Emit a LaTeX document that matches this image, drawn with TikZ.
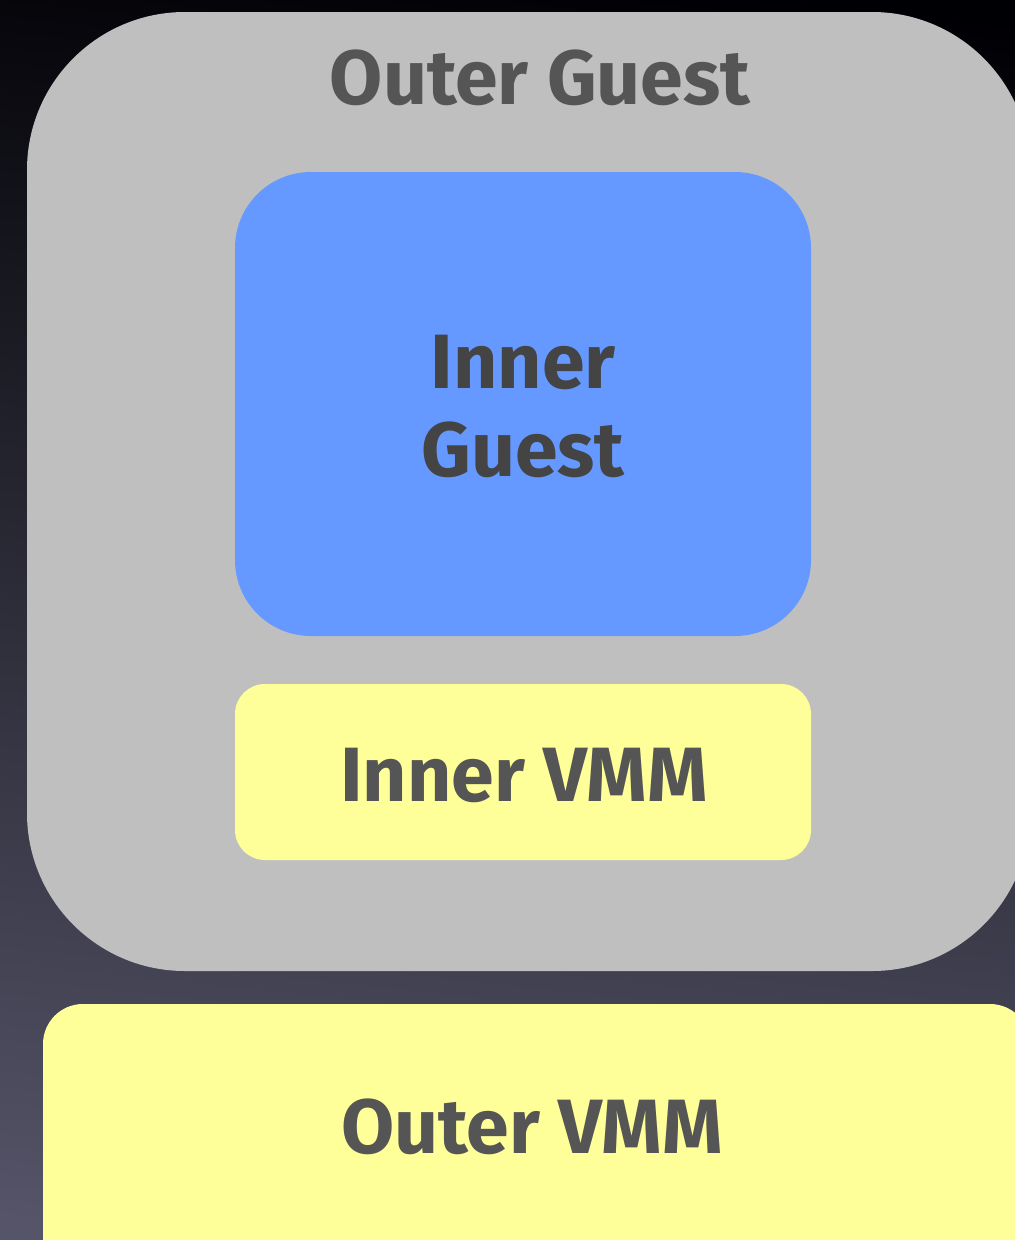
\documentclass[tikz,border=0pt]{standalone}
\usepackage{fontspec}
\setmainfont{Fira Sans}
\usetikzlibrary{shadings}
\definecolor{outerbox}{HTML}{BFBFBF}
\definecolor{guestblue}{HTML}{6699FF}
\definecolor{vmmyellow}{HTML}{FFFF99}
\definecolor{labelgrey}{HTML}{555555}
\definecolor{innergrey}{HTML}{444444}
\definecolor{bgtop}{HTML}{000004}
\definecolor{bgmid}{HTML}{16163C}
\definecolor{bgbottom}{HTML}{555468}
\begin{document}
\begin{tikzpicture}[x=1pt,y=-1pt,
  lbl/.style={font=\fontsize{77}{88}\selectfont\bfseries, text=labelgrey, align=center, inner sep=0pt}]
  % backdrop
  \useasboundingbox (0,0) rectangle (1015,1240);
  \shade[top color=bgtop, middle color=bgmid, bottom color=bgbottom, shading angle=-6]
    (-40,-40) rectangle (1055,1280);
  \clip (0,0) rectangle (1015,1240);
  % boxes
  \filldraw[fill=outerbox, draw=none, rounded corners=158pt] (27,12) rectangle (1030,971);
  \filldraw[fill=guestblue, draw=none, rounded corners=76pt] (235,172) rectangle (811,636);
  \filldraw[fill=vmmyellow, draw=none, rounded corners=30pt] (235,684) rectangle (811,860);
  \filldraw[fill=vmmyellow, draw=none, rounded corners=40pt] (43,1004) rectangle (1030,1280);
  % labels
  \node[lbl] (og) at (540,78) {Outer Guest};
  \node[lbl, text=innergrey] (ig) at (523,406) {Inner\\Guest};
  \node[lbl] (iv) at (524,775) {Inner VMM};
  \node[lbl] (ov) at (532,1127) {Outer VMM};
\end{tikzpicture}
\end{document}
